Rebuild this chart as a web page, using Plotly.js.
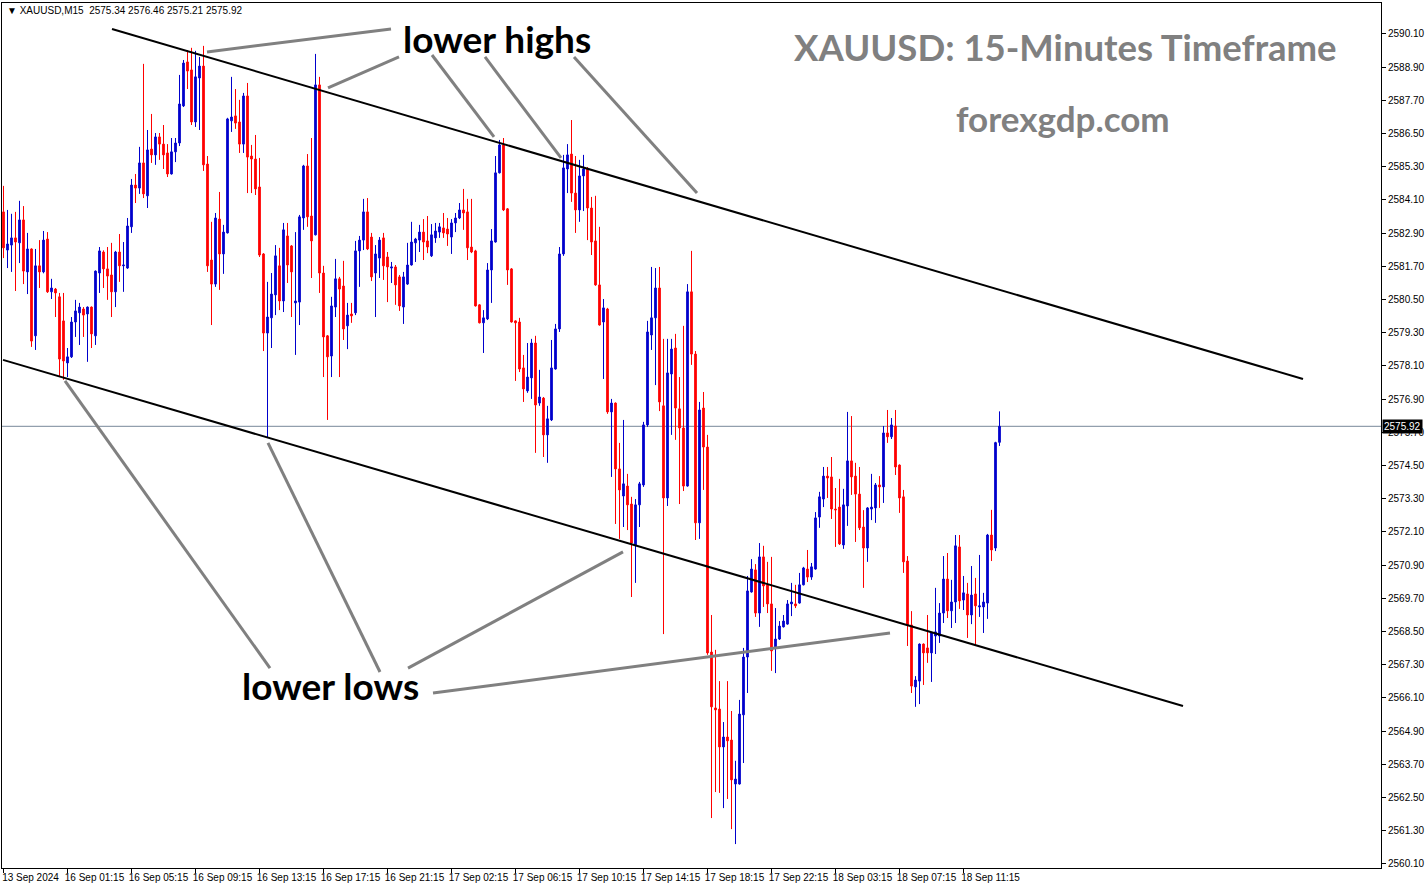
<!DOCTYPE html>
<html><head><meta charset="utf-8">
<script src="https://cdn.plot.ly/plotly-3.0.1.min.js"></script>
<style>html,body{margin:0;padding:0;background:#fff;overflow:hidden}#chart{width:1426px;height:888px}</style>
</head><body><div id="chart"></div>
<script>
// ---- DATA (XAUUSD M15) ----
const openP = [
2583.67,2582.29,2582.47,2582.73,2582.55,2583.38,2581.50,2582.33,2579.19,2581.72,
2581.50,2582.69,2580.78,2580.88,2580.60,2579.73,2578.21,2578.43,2579.69,2580.02,
2580.16,2579.98,2580.23,2579.19,2581.46,2582.22,2581.61,2581.39,2580.78,2582.22,
2581.72,2581.64,2583.13,2584.64,2584.53,2585.44,2584.25,2585.94,2585.73,2586.38,
2586.12,2585.80,2585.04,2585.84,2586.16,2587.50,2589.09,2588.80,2586.92,2588.51,
2588.94,2585.40,2581.93,2581.06,2583.41,2582.15,2582.91,2586.96,2587.14,2586.92,
2586.12,2587.86,2585.69,2585.58,2584.57,2582.15,2579.29,2579.84,2580.67,2581.72,
2580.45,2582.80,2582.44,2580.38,2580.41,2583.45,2585.33,2583.52,2582.84,2588.26,
2581.46,2579.19,2578.46,2580.23,2581.25,2580.99,2579.55,2579.98,2580.02,2582.26,
2582.65,2583.67,2582.76,2581.46,2582.00,2582.73,2582.04,2581.64,2581.68,2581.32,
2580.23,2581.06,2581.75,2582.55,2582.65,2582.94,2582.62,2582.08,2582.73,2582.94,
2583.09,2583.05,2582.76,2583.27,2583.45,2583.74,2583.67,2582.40,2582.26,2580.31,
2579.66,2579.80,2581.57,2582.58,2585.08,2586.09,2583.78,2581.61,2579.73,2579.69,
2578.03,2577.20,2577.67,2578.93,2576.76,2576.94,2575.61,2576.15,2577.99,2579.44,
2582.15,2585.22,2585.76,2584.35,2583.74,2584.97,2585.22,2583.81,2582.62,2581.03,
2579.69,2580.16,2576.44,2576.76,2574.38,2573.40,2573.76,2573.11,2571.63,2573.08,
2573.80,2575.97,2579.22,2579.84,2580.92,2576.66,2573.33,2577.81,2578.75,2576.55,
2575.86,2573.76,2580.78,2578.53,2572.43,2576.58,2575.17,2567.76,2565.74,2565.70,
2564.33,2564.69,2564.58,2562.99,2562.99,2565.49,2567.58,2569.93,2570.73,2569.17,
2571.20,2570.19,2569.50,2567.91,2568.23,2568.67,2568.77,2569.50,2569.50,2569.53,
2570.19,2570.76,2570.47,2570.76,2572.64,2573.29,2574.12,2574.09,2572.93,2573.00,
2571.63,2573.04,2574.67,2574.12,2573.47,2572.28,2571.52,2572.93,2572.97,2573.80,
2573.73,2575.68,2575.54,2575.93,2574.52,2573.37,2571.05,2568.74,2566.50,2566.71,
2568.05,2567.91,2567.73,2568.34,2568.34,2569.17,2570.40,2569.25,2569.57,2571.56,
2569.64,2569.86,2569.10,2569.86,2569.39,2569.39,2569.53,2571.99,2571.52,2575.34];
const highP = [
2584.61,2583.74,2583.60,2583.67,2584.07,2583.88,2582.91,2582.35,2582.33,2582.65,
2582.98,2582.94,2581.25,2580.92,2580.74,2580.74,2578.75,2579.87,2580.49,2580.38,
2580.23,2580.25,2580.25,2581.55,2582.40,2582.28,2582.40,2582.55,2582.26,2582.87,
2582.58,2583.45,2584.86,2585.04,2586.02,2589.02,2586.63,2587.21,2586.52,2586.52,
2586.81,2586.12,2586.34,2586.34,2588.62,2589.16,2589.52,2589.60,2589.49,2589.27,
2589.67,2585.69,2583.31,2583.63,2584.39,2583.20,2587.07,2588.55,2588.11,2587.72,
2587.97,2588.33,2586.09,2586.45,2585.62,2582.18,2581.14,2581.46,2582.47,2582.37,
2583.27,2583.27,2582.47,2582.94,2583.56,2585.37,2585.76,2586.34,2589.38,2588.55,
2581.72,2579.22,2580.60,2581.97,2581.32,2581.90,2580.38,2580.38,2582.62,2582.80,
2584.14,2584.17,2582.91,2582.47,2582.76,2582.91,2582.22,2581.86,2581.75,2581.39,
2581.50,2582.55,2583.31,2582.73,2583.20,2583.41,2583.52,2583.23,2583.27,2583.27,
2583.63,2583.45,2583.41,2583.63,2583.99,2584.50,2584.14,2584.14,2582.30,2580.33,
2580.12,2581.82,2583.05,2585.69,2586.27,2586.34,2583.81,2581.64,2579.75,2579.84,
2578.50,2578.93,2579.08,2579.19,2577.96,2576.98,2576.66,2579.04,2579.62,2582.40,
2585.73,2586.12,2586.99,2585.69,2585.55,2585.73,2585.29,2584.21,2584.25,2583.13,
2580.52,2580.20,2576.91,2576.78,2575.32,2576.15,2574.20,2573.37,2573.29,2573.91,
2576.08,2579.73,2581.68,2581.64,2581.68,2579.08,2579.08,2579.08,2579.26,2577.70,
2579.55,2581.06,2582.26,2578.64,2576.80,2577.16,2575.61,2569.10,2567.84,2566.71,
2565.23,2566.71,2565.63,2563.83,2566.03,2567.91,2570.51,2571.12,2570.94,2571.70,
2571.60,2571.02,2571.20,2569.35,2568.88,2569.10,2569.64,2570.26,2570.19,2570.62,
2570.84,2571.45,2570.98,2572.82,2573.55,2574.45,2574.45,2574.81,2573.69,2574.02,
2573.66,2576.44,2576.29,2574.60,2574.45,2572.89,2573.00,2574.20,2573.87,2574.12,
2575.93,2576.51,2576.22,2576.51,2574.54,2573.62,2571.23,2569.24,2566.89,2568.07,
2568.07,2569.10,2568.47,2570.08,2569.53,2571.23,2571.34,2570.37,2571.99,2571.99,
2570.51,2570.26,2570.87,2570.44,2571.27,2569.90,2572.03,2572.90,2575.36,2576.46];
const lowP = [
2582.00,2581.64,2581.50,2580.81,2581.82,2581.06,2580.70,2578.79,2578.68,2580.92,
2581.45,2580.74,2580.52,2579.87,2577.70,2577.60,2577.70,2578.39,2579.15,2578.86,
2579.15,2578.25,2578.75,2578.86,2580.74,2580.92,2580.49,2579.87,2580.23,2581.14,
2580.78,2581.61,2582.91,2583.99,2584.32,2584.17,2583.81,2585.44,2585.37,2585.55,
2585.22,2584.93,2585.02,2585.47,2586.05,2587.46,2588.11,2586.81,2586.74,2586.63,
2585.15,2581.50,2579.58,2580.96,2580.85,2581.43,2582.89,2586.56,2586.67,2585.80,
2585.80,2584.35,2584.35,2584.28,2582.04,2578.64,2575.50,2578.75,2579.94,2580.12,
2580.05,2581.10,2579.87,2578.50,2579.58,2583.02,2583.13,2581.28,2582.82,2580.74,
2577.70,2576.15,2577.70,2579.87,2577.70,2579.04,2578.71,2579.66,2579.94,2580.96,
2582.29,2582.29,2581.17,2579.87,2581.28,2581.21,2580.41,2581.10,2580.31,2580.09,
2579.62,2581.03,2581.73,2581.86,2582.22,2581.93,2582.18,2582.04,2582.55,2582.73,
2582.73,2582.44,2582.15,2582.94,2583.41,2583.02,2581.93,2582.18,2580.25,2579.64,
2578.57,2579.76,2580.38,2582.56,2585.06,2583.70,2581.03,2579.67,2577.56,2577.88,
2576.80,2577.13,2576.91,2574.96,2576.66,2574.81,2574.60,2576.11,2577.97,2579.33,
2582.08,2584.35,2584.03,2582.91,2583.31,2583.70,2582.65,2582.11,2581.00,2579.56,
2577.63,2576.37,2574.09,2572.39,2571.85,2572.28,2572.17,2569.75,2570.26,2572.28,
2573.73,2575.90,2578.68,2577.41,2576.47,2568.41,2573.04,2575.61,2575.43,2573.11,
2573.58,2573.74,2578.14,2571.81,2571.85,2573.62,2567.66,2561.76,2562.70,2562.67,
2562.12,2562.45,2561.36,2560.82,2562.97,2563.75,2566.28,2569.91,2569.03,2568.67,
2569.39,2569.17,2567.08,2567.00,2568.20,2568.65,2568.75,2569.06,2569.35,2569.51,
2570.17,2570.29,2570.37,2570.74,2572.25,2573.00,2573.33,2572.57,2571.56,2571.63,
2571.49,2572.32,2573.44,2571.74,2572.17,2570.08,2571.02,2572.53,2572.43,2572.97,
2573.15,2575.32,2575.46,2574.16,2572.79,2570.62,2567.98,2566.28,2565.78,2565.88,
2566.57,2567.37,2566.68,2567.69,2568.09,2568.81,2568.99,2568.63,2568.81,2569.32,
2569.28,2568.27,2568.77,2568.02,2569.03,2568.45,2568.96,2571.05,2571.41,2575.21];
const closeP = [
2582.37,2582.51,2582.73,2582.58,2583.38,2581.53,2582.33,2579.00,2581.72,2581.50,
2582.65,2580.78,2580.92,2580.74,2578.35,2578.28,2578.43,2579.69,2580.09,2580.23,
2579.94,2580.23,2579.26,2581.53,2582.26,2581.61,2581.35,2580.78,2582.22,2581.72,
2581.75,2583.16,2584.64,2584.53,2585.44,2584.32,2585.91,2585.73,2586.38,2586.12,
2585.73,2585.04,2585.84,2586.16,2587.57,2589.05,2588.76,2586.92,2588.55,2588.94,
2585.37,2581.72,2581.06,2583.45,2582.15,2582.94,2587.03,2587.10,2586.88,2586.12,
2587.86,2585.65,2585.58,2584.50,2582.11,2579.29,2579.87,2580.70,2582.08,2580.45,
2583.02,2581.75,2581.50,2580.45,2583.49,2585.33,2583.49,2582.62,2588.26,2581.46,
2579.15,2578.43,2580.27,2581.25,2580.88,2579.44,2579.94,2579.91,2582.26,2582.65,
2583.67,2582.33,2581.32,2582.15,2582.65,2581.72,2581.68,2581.68,2581.03,2580.27,
2581.32,2581.75,2582.58,2582.69,2582.94,2582.58,2582.40,2582.84,2582.98,2583.13,
2582.91,2582.87,2583.27,2583.45,2583.74,2583.63,2582.37,2582.22,2580.27,2579.66,
2579.84,2581.57,2582.62,2585.08,2586.09,2583.74,2581.57,2579.69,2579.66,2577.99,
2577.27,2577.70,2578.93,2576.69,2576.98,2575.61,2576.19,2578.03,2579.44,2582.15,
2585.26,2585.73,2584.35,2583.74,2584.97,2585.22,2583.81,2582.58,2581.03,2579.58,
2580.20,2576.44,2576.76,2574.38,2573.62,2573.84,2573.08,2571.70,2573.08,2573.84,
2575.97,2579.33,2579.84,2580.92,2576.80,2573.33,2577.85,2578.71,2576.58,2575.86,
2573.76,2580.78,2578.53,2572.43,2576.51,2575.17,2567.73,2565.78,2565.67,2564.33,
2564.69,2564.55,2563.14,2563.17,2565.52,2567.58,2569.97,2570.76,2569.17,2571.20,
2570.15,2569.50,2567.80,2568.23,2568.70,2568.88,2569.50,2569.57,2569.43,2570.19,
2570.80,2570.47,2570.84,2572.61,2573.37,2574.12,2574.05,2572.93,2572.90,2571.67,
2573.08,2574.67,2574.09,2573.47,2572.25,2571.52,2572.97,2573.00,2573.80,2573.73,
2575.68,2575.54,2575.97,2574.45,2573.33,2571.02,2568.74,2566.53,2566.75,2568.05,
2567.73,2567.73,2568.45,2568.49,2569.17,2570.40,2569.25,2569.57,2571.60,2569.61,
2569.90,2569.10,2569.82,2569.43,2569.43,2569.57,2571.99,2571.45,2575.33,2575.92];

const timeTickBars = [0,16,32,48,64,80,96,112,128,144,160,176,192,208,224,240];
const timeTickLabels = ['13 Sep 2024','16 Sep 01:15','16 Sep 05:15','16 Sep 09:15','16 Sep 13:15',
  '16 Sep 17:15','16 Sep 21:15','17 Sep 02:15','17 Sep 06:15','17 Sep 10:15','17 Sep 14:15',
  '17 Sep 18:15','17 Sep 22:15','18 Sep 03:15','18 Sep 07:15','18 Sep 11:15'];
const priceTicks = [2560.10,2561.30,2562.50,2563.70,2564.90,2566.10,2567.30,2568.50,2569.70,
  2570.90,2572.10,2573.30,2574.50,2575.70,2576.90,2578.10,2579.30,2580.50,2581.70,2582.90,
  2584.10,2585.30,2586.50,2587.70,2588.90,2590.10];
const lastPrice = 2575.92;
const symbolHeader = 'XAUUSD,M15  2575.34 2576.46 2575.21 2575.92';

// channel lines [bar, price] -> [bar, price]
const channelLines = [
  [[27.125, 2590.28], [324.875, 2577.63]],
  [[-0.125, 2578.32], [294.875, 2565.81]]
];
// grey pointer lines
const pointerLines = [
  [[50.875, 2589.45], [96.875, 2590.28]],
  [[81.125, 2588.15], [98.875, 2589.27]],
  [[107.125, 2589.34], [122.625, 2586.38]],
  [[120.375, 2589.27], [139.375, 2585.62]],
  [[142.625, 2589.27], [173.375, 2584.35]],
  [[15.375, 2577.56], [66.625, 2567.18]],
  [[66.125, 2575.32], [94.125, 2567.04]],
  [[101.125, 2567.18], [154.875, 2571.38]],
  [[107.375, 2566.28], [221.625, 2568.45]]
];

// ---- BUILD ----
const xIdx = openP.map((_, i) => i);
const W = 1426, H = 888, ML = 2, MR = 45, MT = 3, MB = 20;
const pw = W - ML - MR, ph = H - MT - MB;
const px = x => (x - ML) / pw;
const py = y => 1 - (y - MT) / ph;

const trace = {
  type: 'candlestick', x: xIdx, open: openP, high: highP, low: lowP, close: closeP,
  increasing: {line: {color: '#0000CC', width: 1}, fillcolor: '#0000CC'},
  decreasing: {line: {color: '#FF0000', width: 1}, fillcolor: '#FF0000'},
  whiskerwidth: 0, hoverinfo: 'skip', showlegend: false
};

const shapes = [];
shapes.push({type: 'line', xref: 'paper', yref: 'y', x0: 0, x1: 1, y0: lastPrice, y1: lastPrice,
  line: {color: '#778899', width: 1}, layer: 'below'});
channelLines.forEach(l => shapes.push({type: 'line', xref: 'x', yref: 'y',
  x0: l[0][0], y0: l[0][1], x1: l[1][0], y1: l[1][1], line: {color: '#000000', width: 2}}));
pointerLines.forEach(l => shapes.push({type: 'line', xref: 'x', yref: 'y',
  x0: l[0][0], y0: l[0][1], x1: l[1][0], y1: l[1][1], line: {color: '#808080', width: 3}}));

const bigFont = 'Lato, "Open Sans", sans-serif';
const annotations = [
  {xref: 'paper', yref: 'paper', x: px(497), y: py(38), text: 'lower highs', showarrow: false,
   xanchor: 'center', yanchor: 'middle', font: {family: bigFont, size: 37, color: '#000', weight: 700}},
  {xref: 'paper', yref: 'paper', x: px(330), y: py(685), text: 'lower lows', showarrow: false,
   xanchor: 'center', yanchor: 'middle', font: {family: bigFont, size: 37, color: '#000', weight: 700}},
  {xref: 'paper', yref: 'paper', x: px(1065), y: py(47), text: 'XAUUSD: 15-Minutes Timeframe', showarrow: false,
   xanchor: 'center', yanchor: 'middle', font: {family: bigFont, size: 36.5, color: '#808080', weight: 700}},
  {xref: 'paper', yref: 'paper', x: px(1063), y: py(118), text: 'forexgdp.com', showarrow: false,
   xanchor: 'center', yanchor: 'middle', font: {family: bigFont, size: 35, color: '#808080', weight: 700}},
  {xref: 'paper', yref: 'paper', x: px(5), y: py(11), text: '\u25BC ' + symbolHeader, showarrow: false,
   xanchor: 'left', yanchor: 'middle', font: {family: 'Liberation Sans, Arial, sans-serif', size: 10, color: '#000'}},
  {xref: 'paper', yref: 'y', x: 1, y: lastPrice, text: lastPrice.toFixed(2), showarrow: false,
   xanchor: 'left', yanchor: 'middle', xshift: 1, bgcolor: '#000', borderpad: 1,
   font: {family: 'Liberation Sans, Arial, sans-serif', size: 10, color: '#fff'}}
];

const layout = {
  width: W, height: H, margin: {l: ML, r: MR, t: MT, b: MB, pad: 0},
  paper_bgcolor: '#fff', plot_bgcolor: '#fff', showlegend: false, boxgap: 0.4,
  xaxis: {type: 'linear', range: [-0.375, 344.375], showgrid: false, zeroline: false,
    showline: true, linecolor: '#000', linewidth: 1, mirror: true,
    ticks: 'outside', ticklen: 4, tickcolor: '#000', tickwidth: 1,
    tickvals: timeTickBars, ticktext: timeTickLabels, ticklabelshift: 27, ticklabelstandoff: -4,
    tickfont: {family: 'Liberation Sans, Arial, sans-serif', size: 10, color: '#000'},
    rangeslider: {visible: false}, fixedrange: true},
  yaxis: {side: 'right', range: [2559.955, 2591.22], showgrid: false, zeroline: false,
    showline: true, linecolor: '#000', linewidth: 1, mirror: true,
    ticks: 'outside', ticklen: 4, tickcolor: '#000', tickwidth: 1,
    tickvals: priceTicks, ticktext: priceTicks.map(v => v.toFixed(2)),
    tickfont: {family: 'Liberation Sans, Arial, sans-serif', size: 10, color: '#000'},
    fixedrange: true},
  shapes: shapes, annotations: annotations
};

Plotly.newPlot('chart', [trace], layout, {staticPlot: true, displayModeBar: false});
</script></body></html>
